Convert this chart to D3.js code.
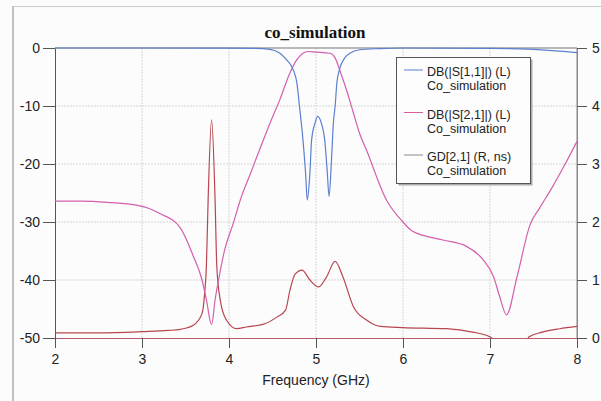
<!DOCTYPE html>
<html>
<head>
<meta charset="utf-8">
<script src="https://cdn.jsdelivr.net/npm/d3@7"></script>
<style>
  html, body { margin: 0; padding: 0; background: #fcfcfc; }
  svg { display: block; }
</style>
</head>
<body>
<div id="chart"></div>
<script>
// --- data ---
const freqS11 = [2.0, 3.0, 4.0, 4.3, 4.47, 4.585, 4.66, 4.72, 4.78, 4.81, 4.85, 4.88, 4.90, 4.93, 4.95, 4.99, 5.02, 5.06, 5.10, 5.13, 5.15, 5.18, 5.20, 5.22, 5.24, 5.27, 5.33, 5.39, 5.50, 5.73, 6.0, 7.0, 7.5, 8.0];
const s11 = [0, 0, -0.02, -0.06, -0.25, -0.9, -2, -3.2, -6, -10, -15.8, -21.5, -26.2, -21.5, -15.8, -12.9, -11.8, -12.9, -15.8, -21.5, -25.6, -18.7, -12.9, -10, -6, -3.7, -1.7, -0.9, -0.3, -0.1, 0, -0.05, -0.25, -0.8];

const freqS21 = [2.0, 2.3, 2.6, 3.0, 3.2, 3.44, 3.59, 3.69, 3.74, 3.80, 3.84, 3.88, 3.95, 4.05, 4.13, 4.24, 4.35, 4.47, 4.585, 4.70, 4.78, 4.85, 4.91, 5.0, 5.16, 5.22, 5.27, 5.35, 5.43, 5.50, 5.58, 5.81, 6.0, 6.11, 6.46, 6.73, 6.92, 7.04, 7.11, 7.19, 7.31, 7.46, 7.57, 7.72, 7.85, 8.0];
const s21 = [-26.4, -26.4, -26.6, -27.3, -28.5, -31.0, -35.9, -40, -43.4, -47.7, -43.4, -40, -34.8, -30.2, -26.2, -21.9, -17.6, -13, -8.9, -4.3, -2, -0.9, -0.6, -0.7, -0.9, -1.7, -3.7, -7.2, -11.2, -14.7, -17.6, -26.2, -30, -31.6, -33.1, -34.2, -36.5, -39.4, -42.8, -46, -39.5, -30.5, -27.6, -23.9, -20.4, -16.1];

const freqGD = [2.0, 2.5, 3.0, 3.3, 3.44, 3.59, 3.69, 3.72, 3.74, 3.76, 3.80, 3.84, 3.86, 3.90, 3.97, 4.09, 4.2, 4.4, 4.55, 4.65, 4.70, 4.76, 4.84, 4.93, 5.03, 5.12, 5.22, 5.31, 5.43, 5.58, 5.74, 6.0, 6.5, 6.8, 7.0, 7.1, 7.25, 7.4, 7.45, 7.6, 7.8, 8.0];
const gd = [0.09, 0.09, 0.11, 0.13, 0.15, 0.22, 0.42, 0.77, 1.23, 2.38, 3.76, 2.38, 1.23, 0.65, 0.31, 0.16, 0.19, 0.24, 0.36, 0.48, 0.82, 1.1, 1.17, 1.0, 0.88, 1.05, 1.32, 1.05, 0.54, 0.31, 0.2, 0.18, 0.16, 0.10, 0.02, -0.1, -0.2, -0.1, 0.02, 0.1, 0.16, 0.2];

const xTicks = [2, 3, 4, 5, 6, 7, 8];
const yLeftTicks = [0, -10, -20, -30, -40, -50];
const yRightTicks = [0, 1, 2, 3, 4, 5];

const legendItems = [
  { name: 'DB(|S[1,1]|) (L)', src: 'Co_simulation', color: '#5b7fd1' },
  { name: 'DB(|S[2,1]|) (L)', src: 'Co_simulation', color: '#d95f9a' },
  { name: 'GD[2,1] (R, ns)', src: 'Co_simulation', color: '#8a8a8a' }
];

const colS11 = '#5b7fd1', colS21 = '#d35fae', colGD = '#b8464f';

// --- layout ---
const W = 601, H = 401;
const margin = { top: 48, right: 24, bottom: 63, left: 55 };
const width = W - margin.left - margin.right;
const height = H - margin.top - margin.bottom;

const svg = d3.select('#chart').append('svg')
  .attr('width', W).attr('height', H)
  .style('font-family', '"Liberation Sans", Arial, sans-serif');

svg.append('rect').attr('width', W).attr('height', H).attr('fill', '#fcfcfc');

// outer frame remnants (scan edges)
svg.append('line').attr('x1', 13).attr('x2', 13).attr('y1', 6).attr('y2', H)
  .attr('stroke', '#999').attr('stroke-width', 1.2);
svg.append('line').attr('x1', 13).attr('x2', W).attr('y1', 6.5).attr('y2', 6.5)
  .attr('stroke', '#ccc').attr('stroke-width', 1);

const g = svg.append('g').attr('transform', `translate(${margin.left},${margin.top})`);

const x = d3.scaleLinear().domain([2, 8]).range([0, width]);
const yL = d3.scaleLinear().domain([-50, 0]).range([height, 0]);
const yR = d3.scaleLinear().domain([0, 5]).range([height, 0]);

// grid
g.append('g').selectAll('line').data(xTicks.slice(1, -1)).join('line')
  .attr('x1', d => x(d)).attr('x2', d => x(d)).attr('y1', 0).attr('y2', height)
  .attr('stroke', '#d6d6d6').attr('stroke-dasharray', '2,1');
g.append('g').selectAll('line').data(yLeftTicks.slice(1, -1)).join('line')
  .attr('y1', d => yL(d)).attr('y2', d => yL(d)).attr('x1', 0).attr('x2', width)
  .attr('stroke', '#d6d6d6').attr('stroke-dasharray', '2,1');

// frame
g.append('line').attr('x1', 0).attr('x2', width).attr('y1', 0).attr('y2', 0).attr('stroke', '#777');
g.append('line').attr('x1', width).attr('x2', width).attr('y1', 0).attr('y2', height).attr('stroke', '#888');

// axes
const fmt = d => String(d);
const axL = g.append('g').call(d3.axisLeft(yL).tickValues(yLeftTicks).tickFormat(fmt).tickSize(12).tickPadding(3).tickSizeOuter(0));
const axB = g.append('g').attr('transform', `translate(0,${height})`)
  .call(d3.axisBottom(x).tickValues(xTicks).tickFormat(fmt).tickSize(10).tickPadding(6).tickSizeOuter(0));
const axR = g.append('g').attr('transform', `translate(${width},0)`)
  .call(d3.axisRight(yR).tickValues(yRightTicks).tickFormat(fmt).tickSize(10).tickPadding(5).tickSizeOuter(0));

[axL, axB, axR].forEach(a => {
  a.selectAll('text').attr('font-size', 14).attr('fill', '#222')
    .attr('font-family', '"Liberation Sans", Arial, sans-serif');
  a.selectAll('line').attr('stroke', '#555');
  a.select('.domain').attr('stroke', '#555');
});
axB.select('.domain').attr('stroke', '#b85a6a');
axR.select('.domain').attr('stroke', '#888');

// curves
g.append('clipPath').attr('id', 'plotclip').append('rect')
  .attr('x', 0).attr('y', -1).attr('width', width).attr('height', height + 1);

const plot = g.append('g').attr('clip-path', 'url(#plotclip)');

const lineL = d3.line().x(d => x(d[0])).y(d => yL(d[1])).curve(d3.curveMonotoneX);
const lineR = d3.line().x(d => x(d[0])).y(d => yR(d[1])).curve(d3.curveMonotoneX);

plot.append('path').datum(d3.zip(freqGD, gd)).attr('d', lineR)
  .attr('fill', 'none').attr('stroke', colGD).attr('stroke-width', 1.2);
plot.append('path').datum(d3.zip(freqS21, s21)).attr('d', lineL)
  .attr('fill', 'none').attr('stroke', colS21).attr('stroke-width', 1.2);
plot.append('path').datum(d3.zip(freqS11, s11)).attr('d', lineL)
  .attr('fill', 'none').attr('stroke', colS11).attr('stroke-width', 1.2);

// title
svg.append('text').attr('x', 315).attr('y', 38).attr('text-anchor', 'middle')
  .attr('font-family', '"Liberation Serif", "Times New Roman", serif')
  .attr('font-weight', 'bold').attr('font-size', 17).attr('fill', '#111')
  .text('co_simulation');

// x label
svg.append('text').attr('x', 316).attr('y', 385).attr('text-anchor', 'middle')
  .attr('font-size', 14).attr('fill', '#222').text('Frequency (GHz)');

// legend
const lg = svg.append('g').attr('transform', 'translate(396,57)');
lg.append('rect').attr('x', 2.5).attr('y', 2.5).attr('width', 134).attr('height', 126).attr('fill', '#aaa');
lg.append('rect').attr('x', 0.5).attr('y', 0.5).attr('width', 134).attr('height', 126)
  .attr('fill', '#fdfdfd').attr('stroke', '#555');
const rows = lg.selectAll('g.item').data(legendItems).join('g')
  .attr('class', 'item')
  .attr('transform', (d, i) => `translate(0,${13 + i * 42.5})`);
rows.append('line').attr('x1', 8).attr('x2', 27).attr('y1', 0).attr('y2', 0)
  .attr('stroke', d => d.color).attr('stroke-width', 1);
rows.append('text').attr('x', 31).attr('y', 6).attr('font-size', 12.5).attr('fill', '#222').text(d => d.name);
rows.append('text').attr('x', 31).attr('y', 20).attr('font-size', 12.5).attr('fill', '#222').text(d => d.src);
</script>
</body>
</html>
